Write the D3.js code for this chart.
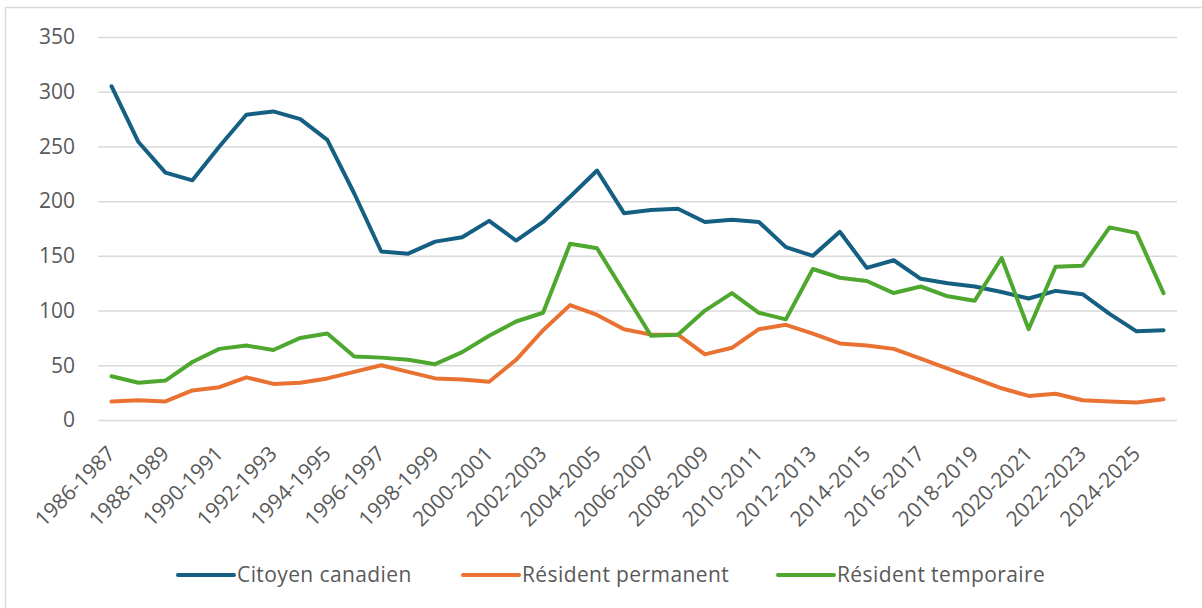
<!DOCTYPE html>
<html>
<head>
<meta charset="utf-8">
<script src="https://cdn.jsdelivr.net/npm/d3@7"></script>
<style>
  body { margin: 0; background: #fff; }
  text { font-family: "Open Sans", "Noto Sans", sans-serif; fill: #595959; }
</style>
</head>
<body>
<div id="chart"></div>
<script>
// categories (school years)
var years = ["1986-1987","1987-1988","1988-1989","1989-1990","1990-1991","1991-1992",
  "1992-1993","1993-1994","1994-1995","1995-1996","1996-1997","1997-1998","1998-1999",
  "1999-2000","2000-2001","2001-2002","2002-2003","2003-2004","2004-2005","2005-2006",
  "2006-2007","2007-2008","2008-2009","2009-2010","2010-2011","2011-2012","2012-2013",
  "2013-2014","2014-2015","2015-2016","2016-2017","2017-2018","2018-2019","2019-2020",
  "2020-2021","2021-2022","2022-2023","2023-2024","2024-2025","2025-2026"];

var citoyen = [305,254,226,219,250,279,282,275,256,207,154,152,163,167,182,164,181,204,228,189,
  192,193,181,183,181,158,150,172,139,146,129,125,122,117,111,118,115,97,81,82];
var permanent = [17,18,17,27,30,39,33,34,38,44,50,44,38,37,35,55,82,105,96,83,
  78,78,60,66,83,87,79,70,68,65,56,47,38,29,22,24,18,17,16,19];
var temporaire = [40,34,36,53,65,68,64,75,79,58,57,55,51,62,77,90,98,161,157,117,
  77,78,100,116,98,92,138,130,127,116,122,113,109,148,83,140,141,176,171,116];

var yTicks = [0,50,100,150,200,250,300,350];
var series = [
  {name: "Citoyen canadien", values: citoyen, color: "#156082"},
  {name: "Résident permanent", values: permanent, color: "#E97132"},
  {name: "Résident temporaire", values: temporaire, color: "#4EA72E"}
];

var W = 1202, H = 608;
var svg = d3.select("#chart").append("svg")
  .attr("width", W).attr("height", H);

// outer frame
svg.append("rect")
  .attr("x", 5.5).attr("y", 7.5)
  .attr("width", 1210).attr("height", 620)
  .attr("fill", "none").attr("stroke", "#d9d9d9").attr("stroke-width", 1.5);

var x = d3.scaleBand().domain(years).range([98, 1177]);
var y = d3.scaleLinear().domain([0, 350]).range([420, 37]);

// y axis + gridlines
var yAxis = svg.append("g")
  .attr("transform", "translate(98,0)")
  .call(d3.axisLeft(y).tickValues(yTicks).tickSize(-(1177 - 98)).tickPadding(23));
yAxis.select(".domain").remove();
yAxis.selectAll(".tick line").attr("stroke", "#d9d9d9").attr("stroke-width", 1.5);
yAxis.selectAll(".tick text").style("font-size", "21px").attr("fill", "#595959");

// x axis labels, every other year
var xAxis = svg.append("g")
  .attr("transform", "translate(0,420)")
  .call(d3.axisBottom(x).tickValues(years.filter(function(d, i) { return i % 2 == 0; })).tickSize(0));
xAxis.select(".domain").remove();
xAxis.selectAll(".tick text")
  .style("font-size", "21px")
  .attr("fill", "#595959")
  .attr("text-anchor", "end")
  .attr("dy", null)
  .attr("y", 0)
  .attr("transform", "translate(5,35) rotate(-45)");

// lines
var line = d3.line()
  .x(function(d, i) { return x(years[i]) + x.bandwidth() / 2; })
  .y(function(d) { return y(d); });

svg.selectAll(".serie")
  .data(series)
  .enter()
  .append("path")
    .attr("class", "serie")
    .attr("d", function(d) { return line(d.values); })
    .attr("fill", "none")
    .attr("stroke", function(d) { return d.color; })
    .attr("stroke-width", 4)
    .attr("stroke-linejoin", "round")
    .attr("stroke-linecap", "round");

// legend
var legendX = [178, 463, 778];
var leg = svg.selectAll(".leg")
  .data(series)
  .enter()
  .append("g")
    .attr("transform", function(d, i) { return "translate(" + legendX[i] + ",575)"; });
leg.append("line")
  .attr("x1", 0).attr("x2", 56)
  .attr("stroke", function(d) { return d.color; })
  .attr("stroke-width", 4)
  .attr("stroke-linecap", "round");
leg.append("text")
  .attr("x", 59)
  .attr("dy", "0.35em")
  .style("font-size", "21px")
  .style("letter-spacing", "0.4px")
  .text(function(d) { return d.name; });
</script>
</body>
</html>
